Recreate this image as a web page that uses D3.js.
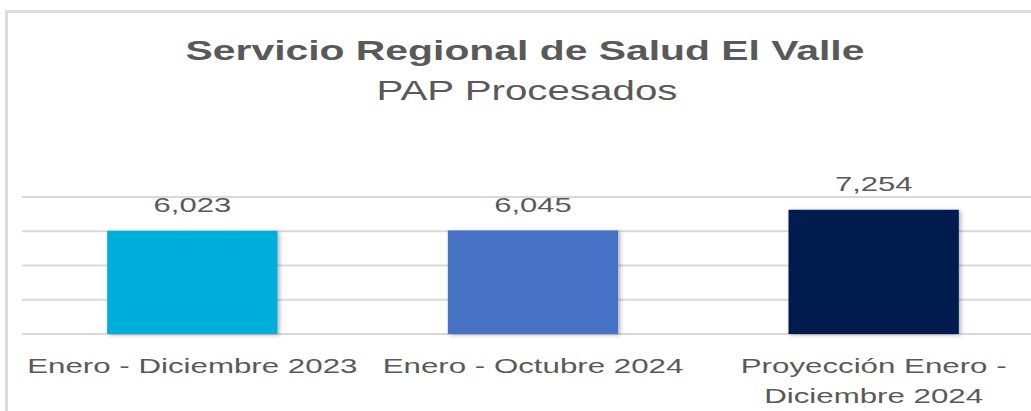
<!DOCTYPE html>
<html>
<head>
<meta charset="utf-8">
<script src="https://cdn.jsdelivr.net/npm/d3@7"></script>
<style>
  body { margin: 0; background: #fff; }
  svg { display: block; }
</style>
</head>
<body>
<div id="chart"></div>
<script>
// datos del grafico
const categories = [
  ['Enero - Diciembre 2023'],
  ['Enero - Octubre 2024'],
  ['Proyección Enero -', 'Diciembre 2024']
]
const values = [6023, 6045, 7254]
const barColors = ['#00AEDB', '#4472C4', '#001E50']
const yTicks = [0, 2000, 4000, 6000, 8000]
const title = 'Servicio Regional de Salud El Valle'
const subtitle = 'PAP Procesados'

const width = 1031
const height = 411
const textColor = '#595959'
const font = '"Liberation Sans", Arial, sans-serif'

const svg = d3.select('#chart')
  .append('svg')
  .attr('width', width)
  .attr('height', height)

// sombra de las barras
const defs = svg.append('defs')
defs.append('filter')
  .attr('id', 'shadow')
  .attr('x', '-10%').attr('y', '-10%')
  .attr('width', '130%').attr('height', '130%')
  .append('feDropShadow')
  .attr('dx', 2).attr('dy', 1)
  .attr('stdDeviation', 2)
  .attr('flood-color', '#000')
  .attr('flood-opacity', 0.3)

// borde del area del grafico
svg.append('rect')
  .attr('x', 6.5).attr('y', 11.5)
  .attr('width', width + 20).attr('height', height + 20)
  .attr('fill', 'none')
  .attr('stroke', '#dcdcdc')
  .attr('stroke-width', 3)

const x = d3.scaleBand()
  .domain(d3.range(values.length))
  .range([22, 1044])
  .paddingInner(0.5)
  .paddingOuter(0.25)

const y = d3.scaleLinear()
  .domain([0, 8000])
  .range([334, 197])

// texto estirado horizontalmente como en la imagen
function stretched (g, str, cx, cy, size, sx, weight) {
  return g.append('text')
    .attr('transform', `translate(${cx},${cy}) scale(${sx},1)`)
    .attr('text-anchor', 'middle')
    .attr('font-family', font)
    .attr('font-size', size)
    .attr('font-weight', weight || 'normal')
    .attr('fill', textColor)
    .text(str)
}

stretched(svg, title, 525, 60, 28, 1.46, 'bold')
stretched(svg, subtitle, 527, 100, 28, 1.44)

// lineas de cuadricula
svg.append('g')
  .selectAll('line')
  .data(yTicks)
  .enter()
  .append('line')
  .attr('x1', 22)
  .attr('x2', width)
  .attr('y1', d => y(d))
  .attr('y2', d => y(d))
  .attr('stroke', '#d9d9d9')
  .attr('stroke-width', 2)

// barras
svg.append('g')
  .selectAll('rect')
  .data(values)
  .enter()
  .append('rect')
  .attr('x', (d, i) => x(i))
  .attr('y', d => y(d))
  .attr('width', x.bandwidth())
  .attr('height', d => y(0) - y(d))
  .attr('fill', (d, i) => barColors[i])
  .attr('filter', 'url(#shadow)')

// etiquetas de valores
const fmt = d3.format(',')
const labels = svg.append('g')
values.forEach((v, i) => {
  stretched(labels, fmt(v), x(i) + x.bandwidth() / 2, y(v) - 18.5, 20, 1.55)
})

// etiquetas de categorias
const cats = svg.append('g')
categories.forEach((lines, i) => {
  lines.forEach((line, j) => {
    stretched(cats, line, x(i) + x.bandwidth() / 2, 373 + j * 30, 21, 1.49)
  })
})
</script>
</body>
</html>
